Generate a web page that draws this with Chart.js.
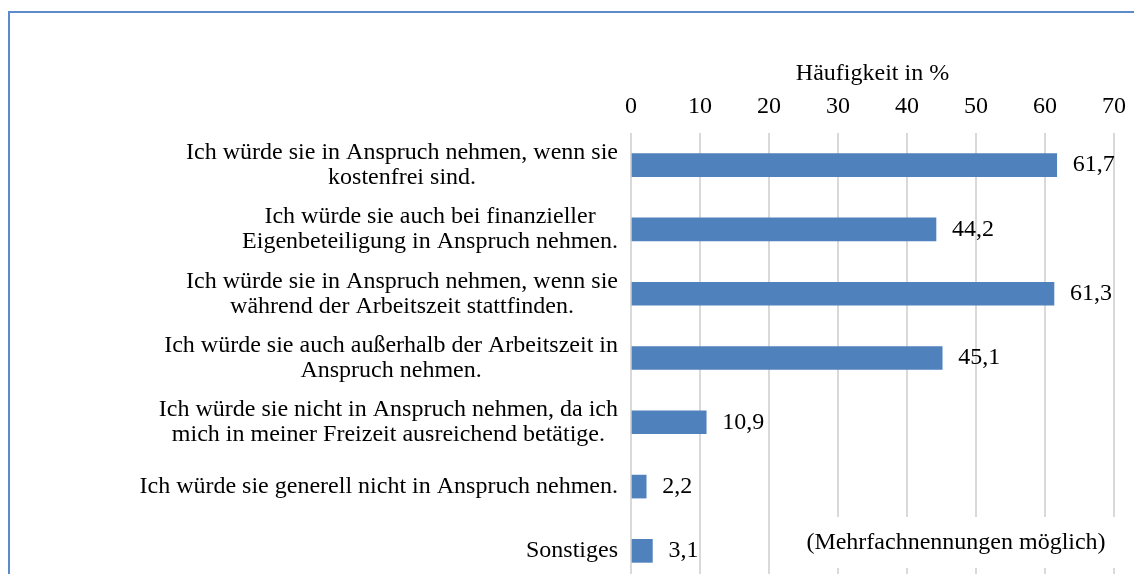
<!DOCTYPE html>
<html>
<head>
<meta charset="utf-8">
<script src="https://cdn.jsdelivr.net/npm/chart.js@4/dist/chart.umd.min.js"></script>
<style>
  html, body { margin: 0; padding: 0; background: #fff; overflow: hidden; width: 1134px; height: 574px; }
  #rahmen { position: absolute; left: 8px; top: 11px; width: 1200px; height: 700px;
            border-left: 2px solid #5b8bc9; border-top: 2px solid #5b8bc9; }
  #box { position: absolute; left: 0; top: 0; width: 1134px; height: 583px; }
</style>
</head>
<body>
<div id="rahmen"></div>
<div id="box"><canvas id="grafica" width="1134" height="583"></canvas></div>
<script>
// Kategorien (mehrzeilig) und Werte in %
var kategorien = [
  ['Ich würde sie in Anspruch nehmen, wenn sie', 'kostenfrei sind.'],
  ['Ich würde sie auch bei finanzieller', 'Eigenbeteiligung in Anspruch nehmen.'],
  ['Ich würde sie in Anspruch nehmen, wenn sie', 'während der Arbeitszeit stattfinden.'],
  ['Ich würde sie auch außerhalb der Arbeitszeit in', 'Anspruch nehmen.'],
  ['Ich würde sie nicht in Anspruch nehmen, da ich', 'mich in meiner Freizeit ausreichend betätige.'],
  ['Ich würde sie generell nicht in Anspruch nehmen.'],
  ['Sonstiges']
];
var werte = [61.7, 44.2, 61.3, 45.1, 10.9, 2.2, 3.1];
var achsenTitel = 'Häufigkeit in %';
var hinweis = '(Mehrfachnennungen möglich)';

var schrift = "'Liberation Serif', 'Times New Roman', serif";

// Beschriftungen der Kategorien: Block rechtsbündig, Zeilen zentriert
var labelPlugin = {
  id: 'labelPlugin',
  afterDraw: function (chart) {
    var ctx = chart.ctx;
    var yScale = chart.scales.y;
    var rechts = chart.chartArea.left - 13;
    ctx.save();
    ctx.font = '24px ' + schrift;
    ctx.fillStyle = '#000';
    ctx.textBaseline = 'middle';
    ctx.textAlign = 'center';
    var zeile = 25;
    kategorien.forEach(function (lines, i) {
      var breite = 0;
      lines.forEach(function (l) { breite = Math.max(breite, ctx.measureText(l).width); });
      var mitte = yScale.getPixelForTick(i);
      var cx = rechts - breite / 2;
      lines.forEach(function (l, j) {
        ctx.fillText(l, cx, mitte + (j - (lines.length - 1) / 2) * zeile);
      });
    });

    // Werte rechts neben den Balken
    ctx.textAlign = 'left';
    chart.getDatasetMeta(0).data.forEach(function (bar, i) {
      ctx.fillText(werte[i].toFixed(1).replace('.', ','), bar.x + 16, bar.y);
    });

    // Hinweis-Textfeld
    ctx.fillStyle = '#fff';
    ctx.fillRect(795, 517, 330, 51);
    ctx.fillStyle = '#000';
    ctx.textAlign = 'center';
    ctx.fillText(hinweis, 956, 543);
    ctx.restore();
  }
};

var ctx = document.getElementById('grafica').getContext('2d');
var grafica = new Chart(ctx, {
  type: 'bar',
  data: {
    labels: kategorien,
    datasets: [{
      data: werte,
      backgroundColor: '#4f81bd',
      borderWidth: 0,
      barThickness: 23
    }]
  },
  options: {
    indexAxis: 'y',
    responsive: false,
    animation: false,
    layout: { padding: { left: 0, right: 20, top: 0, bottom: 0 } },
    plugins: { legend: { display: false }, tooltip: { enabled: false } },
    scales: {
      x: {
        position: 'top',
        min: 0,
        max: 70,
        ticks: { stepSize: 10, color: '#000', padding: 12, font: { family: schrift, size: 24 } },
        grid: { color: '#d9d9d9', lineWidth: 2, drawTicks: false },
        border: { display: false },
        title: { display: true, text: achsenTitel, color: '#000', padding: { top: 59, bottom: 0 },
                 font: { family: schrift, size: 24 } },
        afterFit: function (scale) {
          scale.height = 133;
          scale.paddingLeft = 0;
          scale.paddingRight = 0;
        }
      },
      y: {
        ticks: { display: false },
        grid: { display: false },
        border: { display: false },
        afterFit: function (scale) { scale.width = 631; }
      }
    }
  },
  plugins: [labelPlugin]
});
</script>
</body>
</html>
